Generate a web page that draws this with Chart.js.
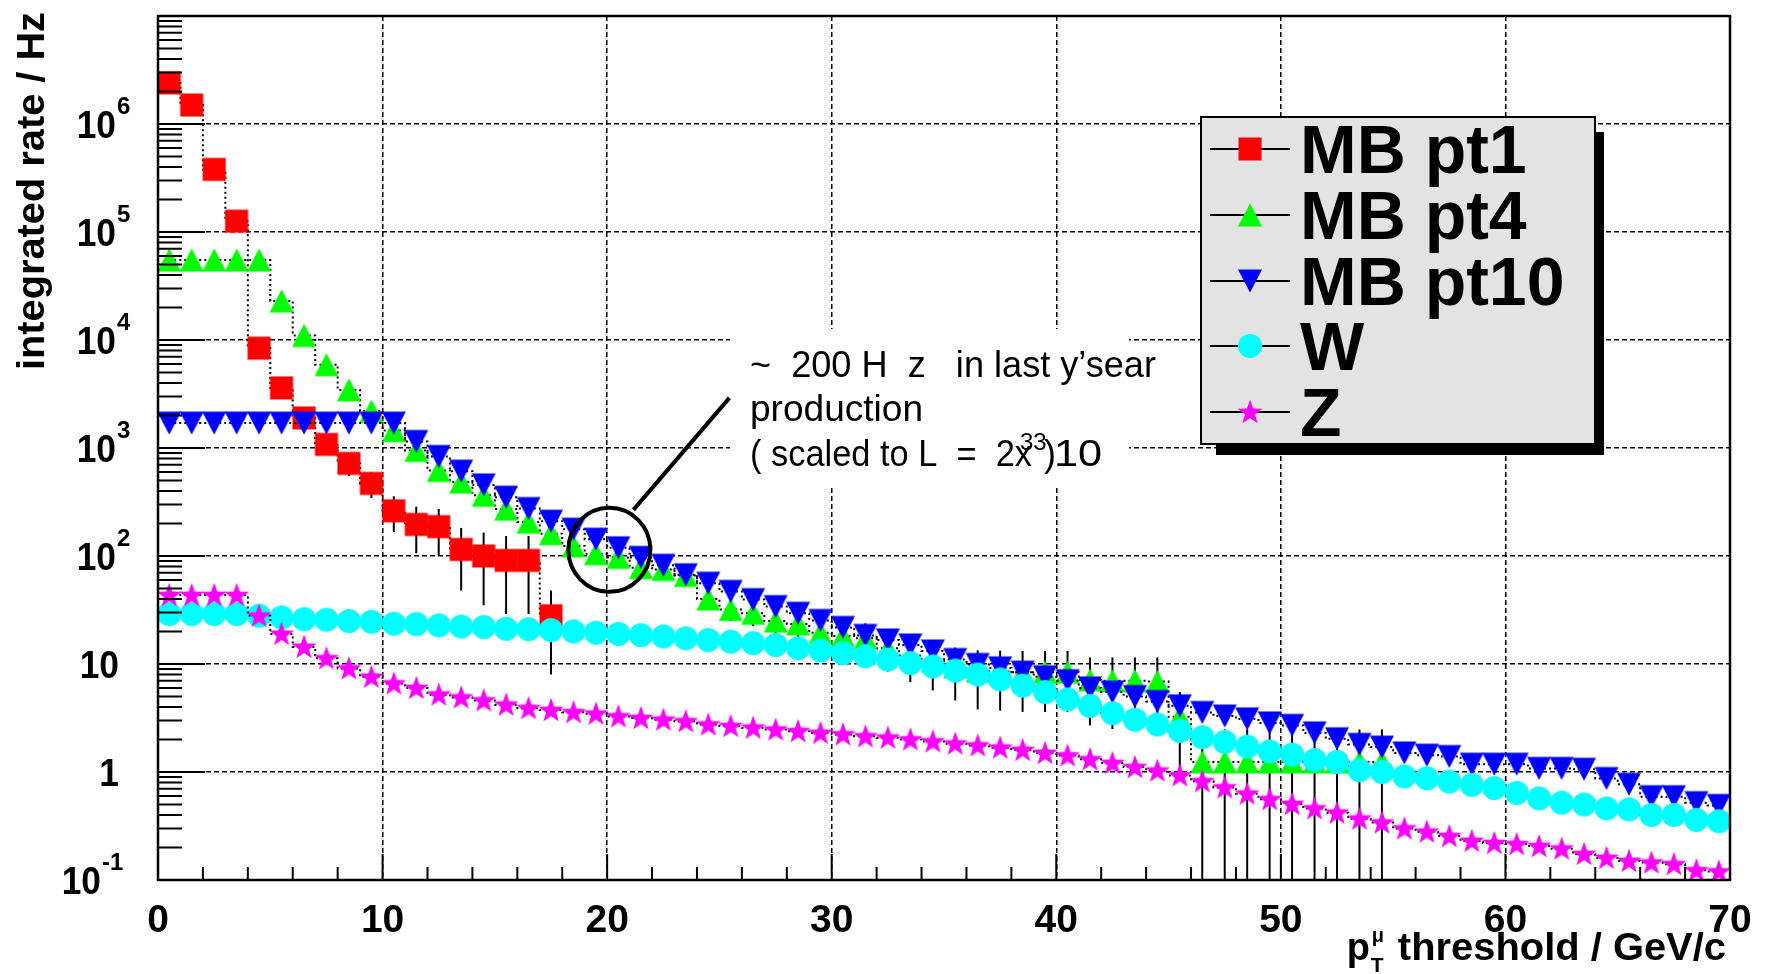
<!DOCTYPE html>
<html>
<head>
<meta charset="utf-8">
<script src="https://cdn.jsdelivr.net/npm/chart.js@4.4.1/dist/chart.umd.min.js"></script>
<style>
  html, body { margin: 0; padding: 0; background: #fff; }
  canvas { display: block; }
</style>
</head>
<body>
<canvas id="rateChart" width="1765" height="974"></canvas>
<script>
// bin centres of the pT threshold histogram (GeV/c)
const binCenters = [0.5, 1.5, 2.5, 3.5, 4.5, 5.5, 6.5, 7.5, 8.5, 9.5,
  10.5, 11.5, 12.5, 13.5, 14.5, 15.5, 16.5, 17.5, 18.5, 19.5,
  20.5, 21.5, 22.5, 23.5, 24.5, 25.5, 26.5, 27.5, 28.5, 29.5,
  30.5, 31.5, 32.5, 33.5, 34.5, 35.5, 36.5, 37.5, 38.5, 39.5,
  40.5, 41.5, 42.5, 43.5, 44.5, 45.5, 46.5, 47.5, 48.5, 49.5,
  50.5, 51.5, 52.5, 53.5, 54.5, 55.5, 56.5, 57.5, 58.5, 59.5,
  60.5, 61.5, 62.5, 63.5, 64.5, 65.5, 66.5, 67.5, 68.5, 69.5];

const mbPt1 = [2.4e6, 1.5e6, 3.8e5, 1.26e5, 8400, 3600, 1900, 1080, 720, 470,
  262, 196, 187, 115, 100, 91, 91, 28];
const mbPt1Err = [1.6e5, 1.2e5, 5e4, 2.2e4, 1200, 600, 320, 200, 170, 125,
  95, 90, 85, 67, 65, 62, 62, 20];

const mbPt4 = [55000, 55000, 55000, 55000, 55000, 23000, 11000, 5900, 3450, 2200,
  1450, 950, 620, 485, 365, 272, 206, 161, 124, 105,
  97, 78, 75, 66, 40, 32, 29.5, 25, 23.5, 19.5,
  18.2, 17.3, 14, 12, 10.7, 9.4, 8.6, 8.5, 8.4, 8.4,
  8.4, 7.1, 7.0, 7.0, 6.9, 3.25, 1.24, 1.24, 1.24, 1.24,
  1.24, 1.24, 1.24, 1.24, 1.24];
const mbPt4Err = [3500, 3500, 3500, 3500, 3500, 2200, 1400, 900, 550, 380,
  260, 170, 110, 90, 65, 50, 38, 30, 24, 20,
  18, 15, 14, 13, 8, 7, 7, 6, 6, 5.5,
  5.5, 6.5, 5.5, 5.2, 5.0, 4.8, 4.8, 4.8, 4.8, 4.8,
  4.8, 4.4, 4.5, 4.5, 4.6, 2.25, 1.24, 1.24, 1.24, 1.24,
  1.24, 1.24, 1.24, 1.24, 1.24];

const mbPt10 = [1700, 1700, 1700, 1700, 1700, 1700, 1700, 1700, 1700, 1700,
  1700, 1150, 835, 610, 455, 350, 275, 210, 177, 143,
  119, 97, 82, 67, 56, 47, 39.5, 34, 29.5, 25.3,
  21.8, 18.4, 16.7, 15, 13.2, 11, 9.9, 9.2, 8.4, 7.6,
  7.0, 6.0, 5.5, 5.0, 4.5, 4.1, 3.56, 3.3, 3.1, 2.85,
  2.7, 2.3, 2.03, 1.8, 1.7, 1.5, 1.43, 1.39, 1.18, 1.18,
  1.18, 1.08, 1.08, 1.06, 0.87, 0.77, 0.59, 0.59, 0.52, 0.49];

const wRate = [29, 29, 29, 29, 28, 27, 26, 25.7, 25, 24.6,
  23.6, 23.4, 22.8, 22.2, 22, 21.2, 21, 20.6, 20, 19.5,
  19, 18.5, 18, 17.3, 16.7, 16.1, 15.6, 15.0, 14.0, 13.3,
  12.6, 11.8, 11, 10.2, 9.5, 8.7, 8.0, 7.2, 6.3, 5.5,
  4.7, 4.1, 3.5, 3.05, 2.75, 2.4, 2.1, 1.9, 1.72, 1.55,
  1.45, 1.29, 1.24, 1.04, 1.0, 0.91, 0.875, 0.815, 0.76, 0.71,
  0.64, 0.57, 0.52, 0.50, 0.46, 0.45, 0.40, 0.40, 0.36, 0.35];

const zRate = [43.5, 43.5, 43.5, 43.5, 28, 19, 14.4, 11.3, 9.1, 7.6,
  6.6, 6.0, 5.2, 4.9, 4.6, 4.2, 3.9, 3.75, 3.58, 3.47,
  3.27, 3.16, 3.05, 2.95, 2.75, 2.66, 2.57, 2.47, 2.39, 2.3,
  2.23, 2.14, 2.08, 2.0, 1.92, 1.83, 1.76, 1.68, 1.6, 1.5,
  1.42, 1.31, 1.21, 1.11, 1.03, 0.93, 0.82, 0.72, 0.63, 0.56,
  0.505, 0.46, 0.42, 0.37, 0.34, 0.30, 0.28, 0.255, 0.23, 0.22,
  0.215, 0.206, 0.195, 0.174, 0.16, 0.15, 0.145, 0.14, 0.123, 0.12];

const seriesNames = ['MB pt1', 'MB pt4', 'MB pt10', 'W', 'Z'];
const xTicks = [0, 10, 20, 30, 40, 50, 60, 70];
const yTicks = [0.1, 1, 10, 100, 1e3, 1e4, 1e5, 1e6, 1e7];
const yTickLabels = [['10', '-1'], ['1', ''], ['10', ''], ['10', '2'], ['10', '3'],
  ['10', '4'], ['10', '5'], ['10', '6']];

const FONT = '"Liberation Sans", Arial, Helvetica, sans-serif';

function makeMarker(shape, color) {
  const c = document.createElement('canvas');
  c.width = 28; c.height = 28;
  const g = c.getContext('2d');
  g.fillStyle = color;
  g.beginPath();
  if (shape === 'square') {
    g.rect(2.5, 2.5, 23, 23);
  } else if (shape === 'up') {
    g.moveTo(2, 25.5); g.lineTo(26, 25.5); g.lineTo(14, 2.5);
  } else if (shape === 'down') {
    g.moveTo(2, 2.5); g.lineTo(26, 2.5); g.lineTo(14, 25.5);
  } else if (shape === 'circle') {
    g.arc(14, 14, 12, 0, Math.PI * 2);
  } else {
    for (let k = 0; k < 10; k++) {
      const r = k % 2 === 0 ? 13 : 5.2;
      const a = -Math.PI / 2 + k * Math.PI / 5;
      g.lineTo(14 + r * Math.cos(a), 14.8 + r * Math.sin(a));
    }
  }
  g.closePath();
  g.fill();
  return c;
}

const markers = [
  makeMarker('square', '#ff0000'),
  makeMarker('up', '#00ff00'),
  makeMarker('down', '#0000ff'),
  makeMarker('circle', '#00ffff'),
  makeMarker('star', '#ff00ff')
];
const seriesErrors = [mbPt1Err, mbPt4Err, null, null, null];

function toPoints(values) {
  return values.map((v, i) => ({ x: binCenters[i], y: v }));
}

function makeDataset(i, values) {
  return {
    label: seriesNames[i],
    data: toPoints(values),
    showLine: true,
    stepped: 'middle',
    borderColor: '#000',
    borderWidth: 2,
    borderDash: [2, 3],
    fill: false,
    spanGaps: false,
    pointStyle: markers[i],
    pointRadius: 14,
    pointHoverRadius: 14,
    order: 5 - i
  };
}

function scaledText(ctx, text, x, y, sx) {
  ctx.save();
  ctx.translate(x, y);
  ctx.scale(sx, 1);
  ctx.fillText(text, 0, 0);
  ctx.restore();
}

function scaledRight(ctx, text, x, y, sx) {
  ctx.save();
  ctx.translate(x, y);
  ctx.scale(sx, 1);
  ctx.textAlign = 'right';
  ctx.fillText(text, 0, 0);
  ctx.restore();
}

// vertical error bars, drawn just before each histogram's markers
const errorBarPlugin = {
  id: 'errorBars',
  beforeDatasetDraw(chart, args) {
    const errs = seriesErrors[args.index];
    if (!errs) return;
    const { ctx, chartArea: a } = chart;
    const xs = chart.scales.x, ys = chart.scales.y;
    const pts = chart.data.datasets[args.index].data;
    ctx.save();
    ctx.beginPath();
    ctx.rect(a.left, a.top, a.right - a.left, a.bottom - a.top);
    ctx.clip();
    ctx.strokeStyle = '#000';
    ctx.lineWidth = 2;
    pts.forEach((p, i) => {
      const e = errs[i];
      if (p.y == null || !e) return;
      const x = xs.getPixelForValue(p.x);
      const top = ys.getPixelForValue(p.y + e);
      const low = p.y - e;
      const bottom = low > ys.min ? ys.getPixelForValue(low) : a.bottom;
      ctx.beginPath();
      ctx.moveTo(x, top);
      ctx.lineTo(x, bottom);
      ctx.stroke();
    });
    ctx.restore();
  }
};

// text box and circled point
const annotationPlugin = {
  id: 'annotation',
  beforeDatasetsDraw(chart) {
    const ctx = chart.ctx;
    ctx.save();
    ctx.fillStyle = '#fff';
    ctx.fillRect(730, 329, 399, 158);
    ctx.fillStyle = '#000';
    ctx.font = '36px ' + FONT;
    ctx.textAlign = 'left';
    ctx.textBaseline = 'alphabetic';
    const l1 = '~  200 H  z   in last y\u2019sear';
    scaledText(ctx, l1, 750, 377, 406 / ctx.measureText(l1).width);
    const l2 = 'production';
    scaledText(ctx, l2, 750, 421, 173 / ctx.measureText(l2).width);
    const l3a = '( scaled to L  =  2x';
    scaledText(ctx, l3a, 750, 466, 282 / ctx.measureText(l3a).width);
    ctx.font = '24px ' + FONT;
    ctx.fillText('33', 1020, 450);
    ctx.font = '36px ' + FONT;
    ctx.fillText(')', 1044, 466);
    scaledText(ctx, '10', 1054, 466, 1.2);
    ctx.restore();
  },
  afterDatasetsDraw(chart) {
    const ctx = chart.ctx;
    const cx = chart.scales.x.getPixelForValue(20.1);
    const cy = chart.scales.y.getPixelForValue(114);
    ctx.save();
    ctx.strokeStyle = '#000';
    ctx.lineWidth = 4;
    ctx.beginPath();
    ctx.ellipse(cx, cy, 41, 42, 0, 0, Math.PI * 2);
    ctx.stroke();
    ctx.beginPath();
    ctx.moveTo(cx + 24, cy - 40);
    ctx.lineTo(cx + 120, cy - 152);
    ctx.stroke();
    ctx.restore();
  }
};

// frame, inside ticks, axis labels, titles and legend
const framePlugin = {
  id: 'frame',
  afterDraw(chart) {
    const { ctx, chartArea: a } = chart;
    const xs = chart.scales.x, ys = chart.scales.y;
    ctx.save();
    ctx.strokeStyle = '#000';
    ctx.fillStyle = '#000';

    // ticks
    ctx.lineWidth = 2;
    ctx.beginPath();
    for (let d = -1; d <= 6; d++) {
      for (let m = 2; m <= 9; m++) {
        const y = ys.getPixelForValue(m * Math.pow(10, d));
        ctx.moveTo(a.left, y); ctx.lineTo(a.left + 24, y);
      }
    }
    yTicks.forEach(v => {
      const y = ys.getPixelForValue(v);
      ctx.moveTo(a.left, y); ctx.lineTo(a.left + 47, y);
    });
    for (let v = 0; v <= 70; v += 2) {
      const x = xs.getPixelForValue(v);
      const len = v % 10 === 0 ? 26 : 13;
      ctx.moveTo(x, a.bottom); ctx.lineTo(x, a.bottom - len);
    }
    ctx.stroke();

    // frame
    ctx.lineWidth = 2.5;
    ctx.strokeRect(a.left, a.top, a.right - a.left, a.bottom - a.top);

    // y labels
    ctx.textBaseline = 'alphabetic';
    yTickLabels.forEach((lab, i) => {
      const y = ys.getPixelForValue(yTicks[i]);
      ctx.font = 'bold 38px ' + FONT;
      if (!lab[1]) {
        scaledRight(ctx, lab[0], 119, y + 14, 0.93);
        return;
      }
      const right = lab[1].charAt(0) === '-' ? 101 : 116;
      scaledRight(ctx, lab[0], right, y + 14, 0.93);
      ctx.font = 'bold 24px ' + FONT;
      ctx.textAlign = 'left';
      ctx.fillText(lab[1], right + 1, y - 10);
    });

    // x labels
    ctx.font = 'bold 39px ' + FONT;
    ctx.textAlign = 'center';
    xTicks.forEach(v => {
      ctx.fillText(String(v), xs.getPixelForValue(v), 932);
    });

    // x title
    ctx.textAlign = 'left';
    ctx.font = 'bold 38px ' + FONT;
    const rest = 'threshold / GeV/c';
    const restW = ctx.measureText(rest).width * 1.05;
    const restLeft = 1726 - restW;
    scaledText(ctx, rest, restLeft, 960, 1.05);
    const pW = ctx.measureText('p').width;
    ctx.fillText('p', restLeft - 28 - pW, 960);
    ctx.font = 'bold 21px ' + FONT;
    ctx.fillText('T', restLeft - 27, 972);
    ctx.font = 'bold 20px ' + FONT;
    ctx.fillText('\u03bc', restLeft - 26, 942);

    // y title
    ctx.font = 'bold 39px ' + FONT;
    const yTitle = 'integrated rate / Hz';
    const tw = ctx.measureText(yTitle).width;
    ctx.save();
    ctx.translate(44, 12);
    ctx.rotate(-Math.PI / 2);
    ctx.scale(358 / tw, 1);
    ctx.textAlign = 'right';
    ctx.fillText(yTitle, 0, 0);
    ctx.restore();

    // legend
    const lx = 1201, ly = 117, lw = 394, lh = 327;
    ctx.fillStyle = '#000';
    ctx.fillRect(lx + 15, ly + 15, lw - 6, lh - 4);
    ctx.fillStyle = '#e3e3e3';
    ctx.fillRect(lx, ly, lw, lh);
    ctx.lineWidth = 2;
    ctx.strokeRect(lx, ly, lw, lh);
    const rowY = [149, 215, 281, 346, 412];
    ctx.font = 'bold 68px ' + FONT;
    ctx.textAlign = 'left';
    seriesNames.forEach((name, i) => {
      const y = rowY[i];
      ctx.beginPath();
      ctx.moveTo(1210, y); ctx.lineTo(1290, y);
      ctx.stroke();
      const mk = markers[i];
      ctx.drawImage(mk, 1250 - mk.width / 2, y - mk.height / 2);
      ctx.fillStyle = '#000';
      ctx.fillText(name, 1300, y + 24);
    });
    ctx.restore();
  }
};

const ctx = document.getElementById('rateChart').getContext('2d');
const chart = new Chart(ctx, {
  type: 'line',
  data: {
    datasets: [
      makeDataset(0, mbPt1),
      makeDataset(1, mbPt4),
      makeDataset(2, mbPt10),
      makeDataset(3, wRate),
      makeDataset(4, zRate)
    ]
  },
  options: {
    responsive: false,
    animation: false,
    devicePixelRatio: 1,
    events: [],
    layout: { padding: { top: 9, right: 35, left: 0, bottom: 0 } },
    plugins: { legend: { display: false }, tooltip: { enabled: false } },
    scales: {
      x: {
        type: 'linear', min: 0, max: 70,
        afterBuildTicks: s => { s.ticks = xTicks.map(v => ({ value: v })); },
        afterFit: s => { s.height = 94; },
        ticks: { display: false },
        grid: {
          drawTicks: false,
          lineWidth: 1.5,
          color: c => (c.tick && (c.tick.value === 0 || c.tick.value === 70)) ? 'rgba(0,0,0,0)' : '#000'
        },
        border: { display: false, dash: [5, 3] }
      },
      y: {
        type: 'logarithmic', min: 0.1, max: 1e7,
        afterBuildTicks: s => { s.ticks = yTicks.map(v => ({ value: v })); },
        afterFit: s => { s.width = 158; },
        ticks: { display: false },
        grid: { drawTicks: false, lineWidth: 1.5, color: '#000' },
        border: { display: false, dash: [5, 3] }
      }
    }
  },
  plugins: [errorBarPlugin, annotationPlugin, framePlugin]
});
</script>
</body>
</html>
